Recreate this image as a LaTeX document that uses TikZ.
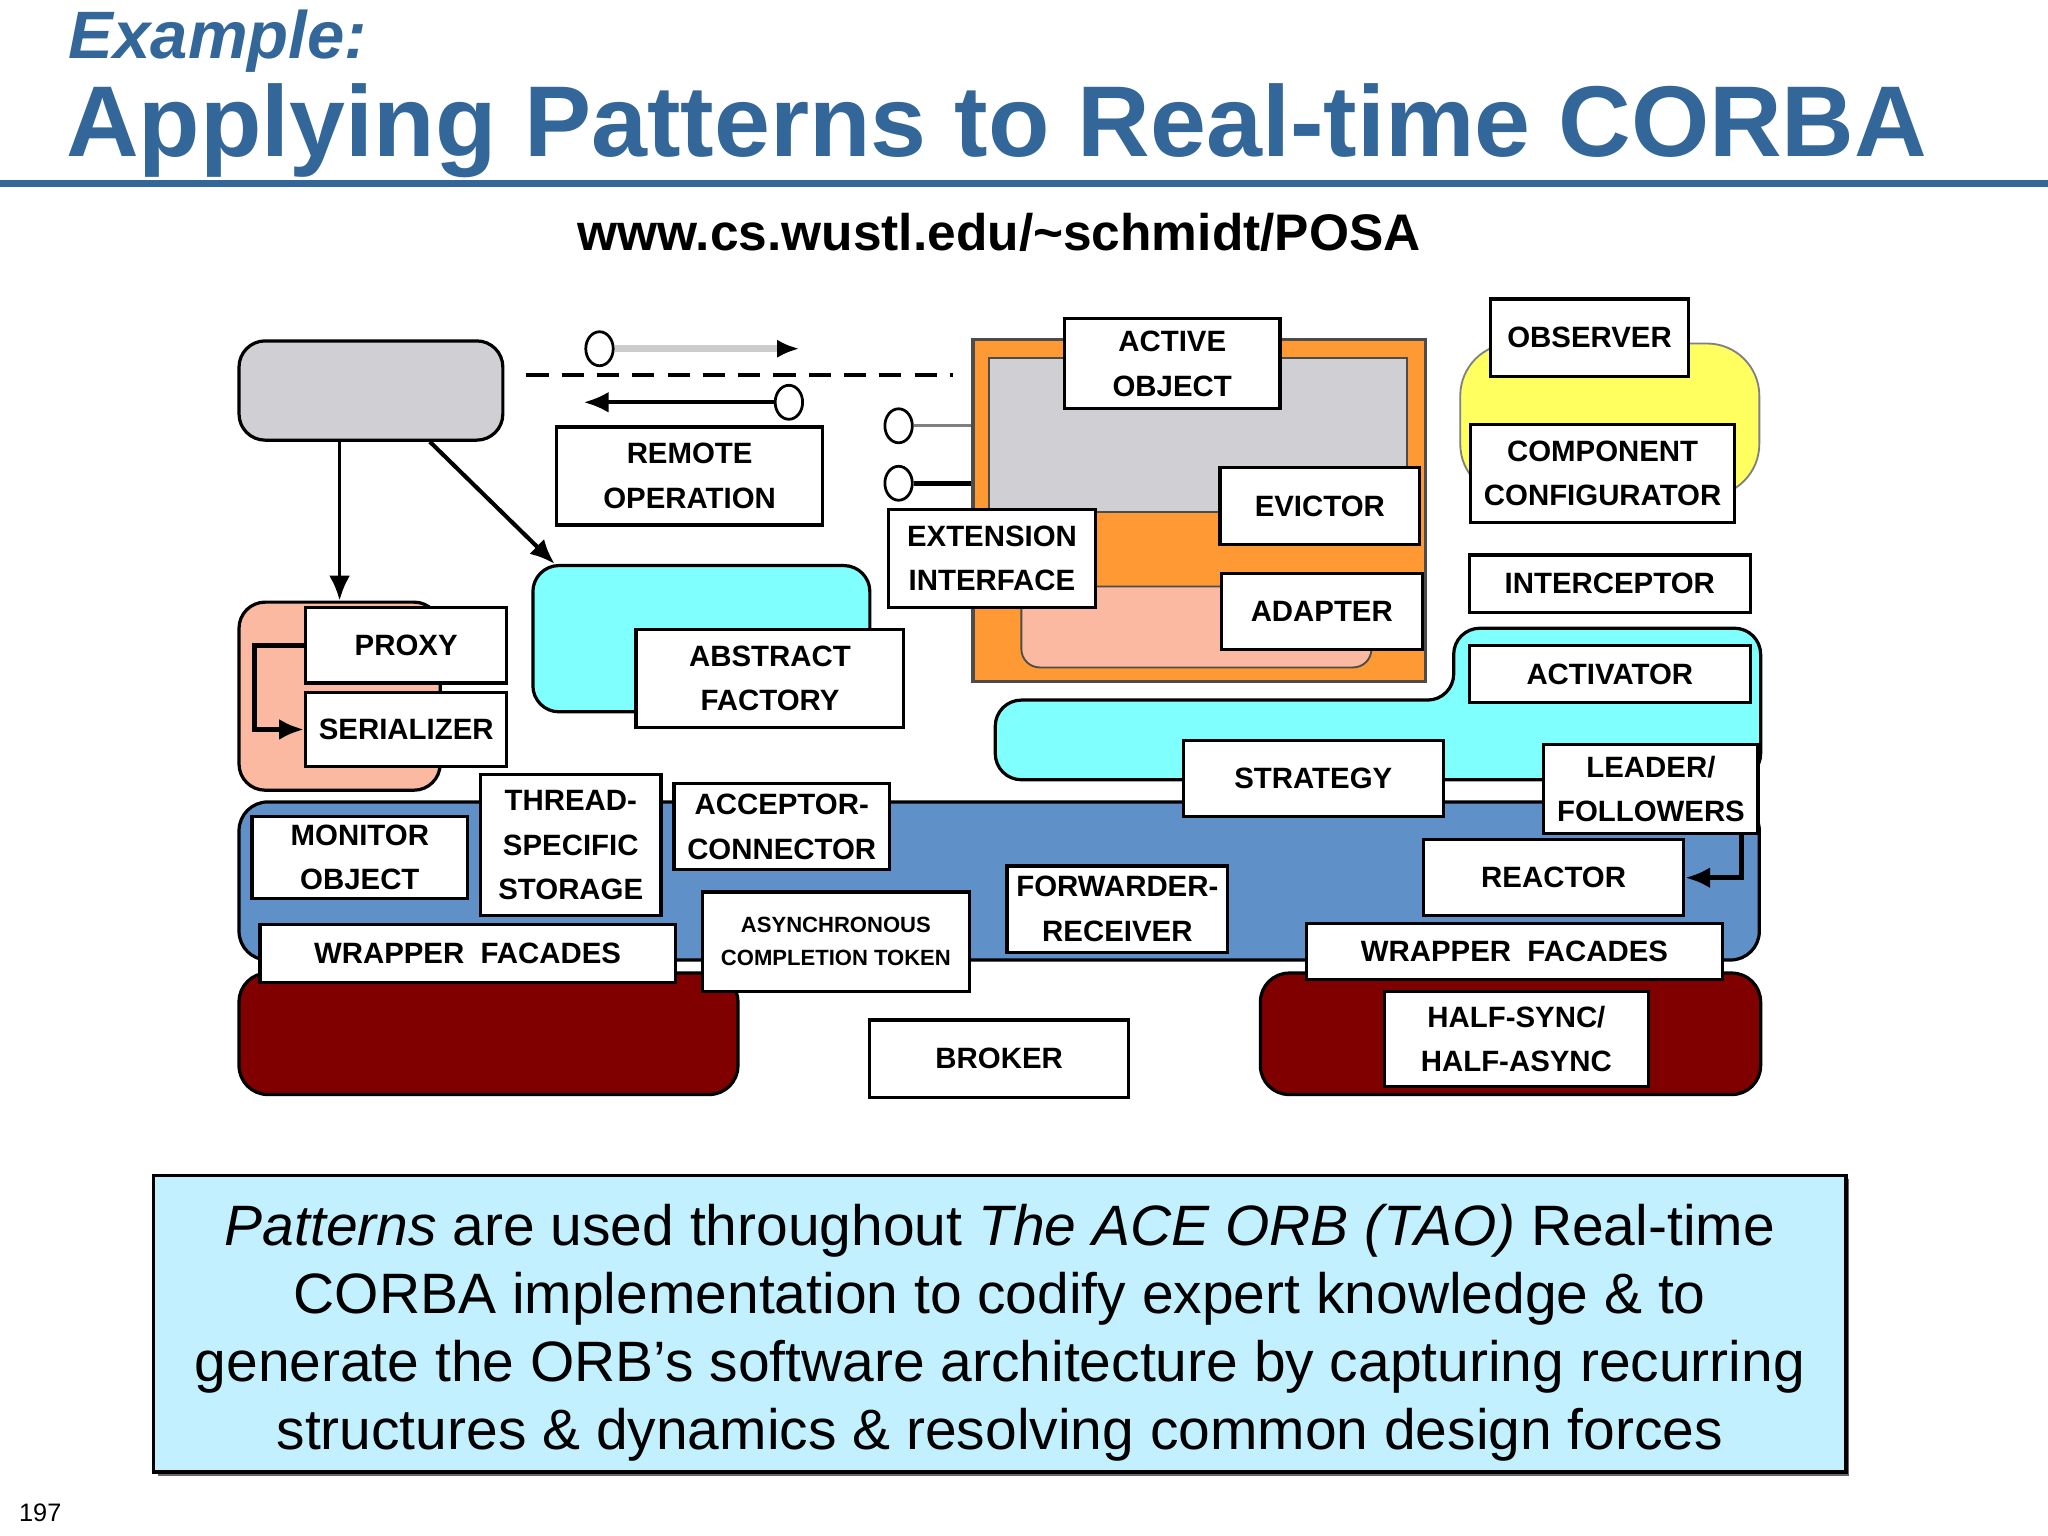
\documentclass[tikz,border=0pt]{standalone}
\usepackage{fontspec}
\setmainfont{Liberation Sans}
\usetikzlibrary{arrows.meta,shapes.geometric}
\definecolor{titleblue}{HTML}{336699}
\definecolor{bandblue}{HTML}{5F91C8}
\definecolor{groupcyan}{HTML}{80FFFF}
\definecolor{groupgray}{HTML}{D0D0D4}
\definecolor{groupsalmon}{HTML}{FBB9A1}
\definecolor{grouporange}{HTML}{FF9933}
\definecolor{groupyellow}{HTML}{FFFF60}
\definecolor{groupred}{HTML}{800000}
\definecolor{notecyan}{HTML}{C2F0FF}
\newcommand{\patfont}{\fontsize{6.4}{9.7}\selectfont\bfseries}
\newcommand{\smallpatfont}{\fontsize{4.8}{7.1}\selectfont\bfseries}
\tikzset{
  pattern box/.style 2 args={draw,fill=white,line width=0.7pt,font=\patfont,align=center,inner sep=0pt,
    minimum width=#1*0.01cm,minimum height=#2*0.01cm},
  patgroup/.style 2 args={draw,line width=0.7pt,rounded corners=0.2cm,inner sep=0pt,
    minimum width=#1*0.01cm,minimum height=#2*0.01cm},
  lolly/.style={draw,fill=white,ellipse,line width=0.6pt,inner sep=0pt,minimum width=0.21cm,minimum height=0.26cm},
  arrowed/.style={-{Latex[length=0.19cm,width=0.16cm]}}
}

\begin{document}
\begin{tikzpicture}[x=0.01cm,y=-0.01cm]
\useasboundingbox (0,0) rectangle (1568,1176);
% heading
\node[anchor=base west,inner sep=0pt,text=titleblue,font=\fontsize{14.6}{17}\selectfont\bfseries\itshape] (example) at (52,45) {Example:};
\node[anchor=base west,inner sep=0pt,text=titleblue,font=\fontsize{21.9}{26}\selectfont\bfseries] (title) at (50,120) {Applying Patterns to Real-time CORBA};
\draw[titleblue,line width=1.4pt] (0,140.5) -- (1568,140.5);
\node[anchor=base,inner sep=0pt,font=\fontsize{11.2}{13}\selectfont\bfseries] (url) at (765,192) {www.cs.wustl.edu/\textasciitilde schmidt/POSA};

% pattern groups
\node[patgroup={202}{76},fill=groupgray] (client) at (284,299) {};
\node[patgroup={154}{144},fill=groupsalmon] (proxygrp) at (260,533) {};
\node[patgroup={258}{112},fill=groupcyan] (afgrp) at (537,489) {};
\node[draw=black!70,fill=grouporange,line width=0.7pt,inner sep=0pt,minimum width=3.46cm,minimum height=2.62cm] (aogrp) at (918,391) {};
\draw[black!70,fill=groupgray] (757,274) rectangle (1077,392);
\draw[black!70,fill=groupsalmon,rounded corners=0.14cm] (782,449) rectangle (1050,511);
\draw[gray,fill=groupyellow,rounded corners=0.4cm] (1118,263) rectangle (1347,380);
\draw[line width=0.7pt,fill=groupcyan,rounded corners=0.2cm] (900,536) -- (1113,536) -- (1113,481) -- (1348,481) -- (1348,597) -- (762,597) -- (762,536) -- cycle;
\draw[line width=0.7pt,fill=bandblue,rounded corners=0.22cm] (183,614) rectangle (1347,735);
\draw[line width=0.7pt,fill=groupred,rounded corners=0.22cm] (183,745) rectangle (565,838);
\draw[line width=0.7pt,fill=groupred,rounded corners=0.22cm] (965,745) rectangle (1348,838);

% patterns
\node[pattern box={204}{75}] (remote) at (528,364.5) {REMOTE\\OPERATION};
\node[pattern box={205}{75}] (abstract) at (589.5,519.5) {ABSTRACT\\FACTORY};
\node[pattern box={154}{58}] (proxy) at (311,494) {PROXY};
\node[pattern box={154}{57}] (serializer) at (311,558.5) {SERIALIZER};
\node[pattern box={165}{63}] (monitor) at (275.5,656.5) {MONITOR\\OBJECT};
\node[pattern box={138}{108}] (tss) at (437,647) {THREAD-\\SPECIFIC\\STORAGE};
\node[pattern box={165}{66}] (acceptor) at (598.5,633) {ACCEPTOR-\\CONNECTOR};
\node[pattern box={318}{44}] (wrapleft) at (358,730) {WRAPPER\ \ FACADES};
\node[pattern box={204}{76},font=\smallpatfont] (act) at (640,721) {ASYNCHRONOUS\\COMPLETION TOKEN};
\node[pattern box={198}{59}] (broker) at (765,810.5) {BROKER};
\node[pattern box={169}{66}] (forwarder) at (855.5,696) {FORWARDER-\\RECEIVER};
\node[pattern box={165}{69}] (activeobj) at (897.5,278.5) {ACTIVE\\OBJECT};
\node[pattern box={153}{59}] (evictor) at (1010.5,387.5) {EVICTOR};
\node[pattern box={159}{75}] (extension) at (759.5,427.5) {EXTENSION\\INTERFACE};
\node[pattern box={154}{58}] (adapter) at (1012,468) {ADAPTER};
\node[pattern box={152}{59}] (observer) at (1217,258.5) {OBSERVER};
\node[pattern box={202}{75}] (configurator) at (1227,362.5) {COMPONENT\\CONFIGURATOR};
\node[pattern box={215}{44}] (interceptor) at (1232.5,447) {INTERCEPTOR};
\node[pattern box={215}{44}] (activator) at (1232.5,516) {ACTIVATOR};
\node[pattern box={199}{58}] (strategy) at (1005.5,596) {STRATEGY};
\node[pattern box={164}{68}] (leader) at (1264,604) {LEADER/\\FOLLOWERS};
\node[pattern box={199}{58}] (reactor) at (1189.5,672) {REACTOR};
\node[pattern box={319}{43}] (wrapright) at (1159.5,728.5) {WRAPPER\ \ FACADES};
\node[pattern box={202}{73}] (halfsync) at (1161,795.5) {HALF-SYNC/\\HALF-ASYNC};

% connectors
\coordinate (dashstart) at (403,287);
\coordinate (dashend) at (730,287);
\draw[line width=0.8pt,dash pattern=on 0.17cm off 0.1cm] (dashstart) -- (dashend);
\node[lolly] (callin) at (459,267) {};
\coordinate (callout) at (612,267);
\draw[black!20,line width=1.6pt,-{Latex[black,length=0.17cm,width=0.14cm]}] (callin) -- (callout);
\node[lolly] (replyin) at (604,308) {};
\coordinate (replyout) at (447,308);
\draw[line width=0.8pt,arrowed] (replyin) -- (replyout);
\node[lolly] (extA) at (688,326) {};
\node[lolly] (extB) at (688,370) {};
\draw[gray,line width=0.6pt] (extA) -- (extA -| aogrp.west);
\draw[line width=1.1pt] (extB) -- (extB -| aogrp.west);
\draw[line width=0.8pt,arrowed] (client.south -| proxygrp.north) -- (proxygrp.north);
\draw[line width=0.9pt,arrowed] (client.-41) -- (afgrp.153);
\draw[line width=1.1pt,arrowed] (proxy.west) -- ++(-38,0) |- (serializer.west);
\draw[line width=1.1pt,arrowed] ([xshift=-0.14cm]leader.south east) |- (reactor.east);

% note
\fill[black!60] (121,903) rectangle (1416,1130);
\node[draw,line width=0.7pt,fill=notecyan,minimum width=12.95cm,minimum height=2.27cm,inner sep=0pt] (note) at (765.5,1013.5) {};
\node[align=center,inner sep=0pt,font=\fontsize{12.4}{14.8}\selectfont] (notetext) at ([yshift=-0.07cm]note.center) {\textit{Patterns} are used throughout \textit{The ACE ORB (TAO)} Real-time\\CORBA implementation to codify expert knowledge \& to\\generate the ORB’s software architecture by capturing recurring\\structures \& dynamics \& resolving common design forces};
\node[anchor=base west,inner sep=0pt,font=\fontsize{5.5}{6}\selectfont] (pageno) at (14,1165) {197};
\end{tikzpicture}
\end{document}
